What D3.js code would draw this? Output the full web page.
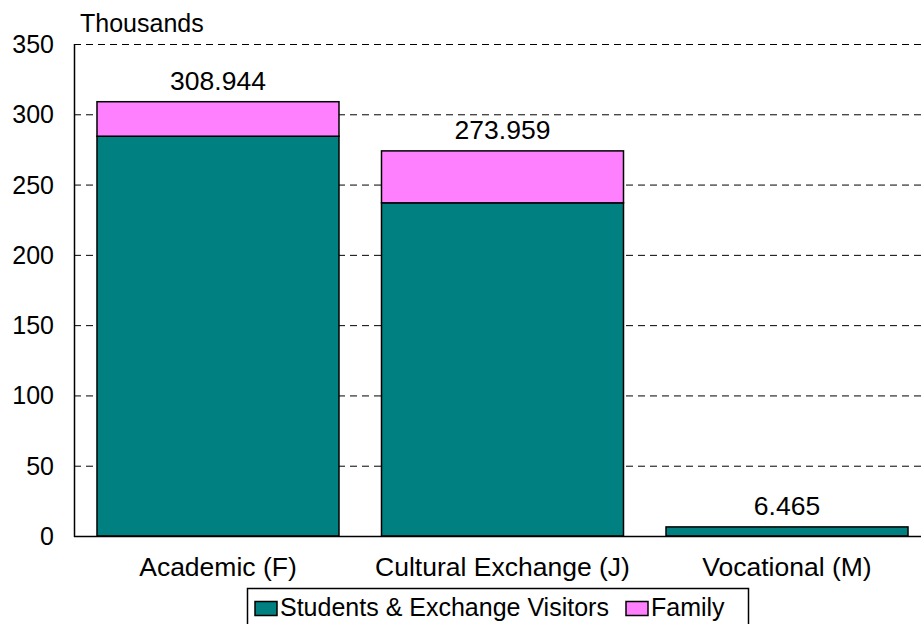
<!DOCTYPE html>
<html><head><meta charset="utf-8">
<script src="https://cdn.jsdelivr.net/npm/d3@7"></script>
<style>body{margin:0;background:#fff}svg{display:block}text{font-family:"Liberation Sans",Arial,sans-serif;fill:#000}</style>
</head><body>
<svg id="c" width="921" height="624"></svg>
<script>
const categories = ["Academic (F)", "Cultural Exchange (J)", "Vocational (M)"];
const students = [284.4, 237.0, 6.465];
const family = [24.544, 36.959, 0];
const totals = ["308.944", "273.959", "6.465"];
const seriesNames = ["Students & Exchange Visitors", "Family"];
const colors = ["#008080", "#FF80FF"];
const yTicks = [0, 50, 100, 150, 200, 250, 300, 350];

const svg = d3.select("#c");
const L = 74, R = 921, T = 44, B = 536;
const x = d3.scaleBand().domain(categories).range([L, 931]).paddingInner(0.1494).paddingOuter(0.0808);
const y = d3.scaleLinear().domain([0, 350]).range([B, T]);
const FS = 25, FL = 26.5;

// gridlines
svg.append("g").selectAll("line").data(yTicks.filter(d => d > 0)).join("line")
  .attr("x1", L).attr("x2", R).attr("y1", d => y(d) + 0.5).attr("y2", d => y(d) + 0.5)
  .attr("stroke", "#000").attr("stroke-width", 1).attr("stroke-dasharray", "7,5");

const data = categories.map((c, i) => ({cat: c, s: students[i], f: family[i], t: totals[i]}));
const stack = d3.stack().keys(["s", "f"])(data);

svg.append("g").selectAll("g").data(stack).join("g")
  .attr("fill", (d, i) => colors[i])
  .selectAll("rect").data(d => d.filter(p => p[1] - p[0] > 0)).join("rect")
  .attr("x", d => x(d.data.cat)).attr("width", x.bandwidth())
  .attr("y", d => y(d[1])).attr("height", d => y(d[0]) - y(d[1]))
  .attr("stroke", "#000").attr("stroke-width", 1.5);

// total labels
svg.append("g").selectAll("text").data(data).join("text")
  .attr("x", d => x(d.cat) + x.bandwidth() / 2)
  .attr("y", d => y(d.s + d.f) - 12)
  .attr("text-anchor", "middle").attr("font-size", FL).text(d => d.t);

// axes lines
svg.append("line").attr("x1", L + 0.5).attr("x2", L + 0.5).attr("y1", T).attr("y2", B + 1)
  .attr("stroke", "#000").attr("stroke-width", 1.5);
svg.append("line").attr("x1", L).attr("x2", R).attr("y1", B + 0.5).attr("y2", B + 0.5)
  .attr("stroke", "#000").attr("stroke-width", 1.5);

// y tick labels
svg.append("g").selectAll("text").data(yTicks).join("text")
  .attr("x", 54).attr("y", d => y(d) + 9).attr("text-anchor", "end")
  .attr("font-size", FS).text(d => d);

// x labels
svg.append("g").selectAll("text").data(categories).join("text")
  .attr("x", d => x(d) + x.bandwidth() / 2).attr("y", 576)
  .attr("text-anchor", "middle").attr("font-size", FL).text(d => d);

svg.append("text").attr("x", 80).attr("y", 32).attr("font-size", FS).text("Thousands");

// legend
const lg = svg.append("g");
lg.append("rect").attr("x", 247.5).attr("y", 588.5).attr("width", 501).attr("height", 40)
  .attr("fill", "#fff").attr("stroke", "#000").attr("stroke-width", 1.5);
const lx = [255, 626];
seriesNames.forEach((n, i) => {
  lg.append("rect").attr("x", lx[i]).attr("y", 601.5).attr("width", 22).attr("height", 14)
    .attr("fill", colors[i]).attr("stroke", "#000").attr("stroke-width", 1.5);
  lg.append("text").attr("x", lx[i] + 25).attr("y", 616).attr("font-size", FS).text(n);
});
</script>
</body></html>
